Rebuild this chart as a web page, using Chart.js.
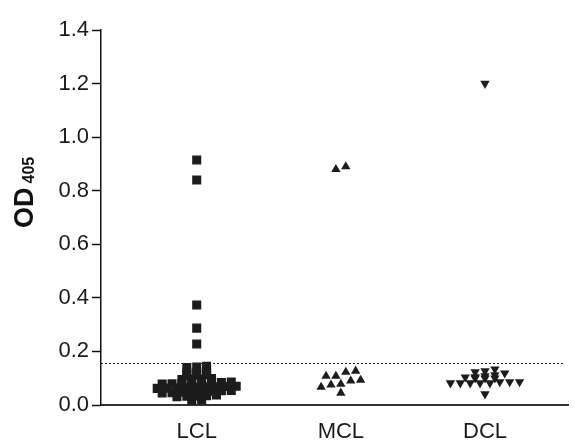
<!DOCTYPE html>
<html>
<head>
<meta charset="utf-8">
<script src="https://cdn.jsdelivr.net/npm/chart.js@4.4.1/dist/chart.umd.min.js"></script>
<style>
  html, body { margin: 0; padding: 0; background: #fff; }
  #wrap { width: 575px; height: 444px; }
</style>
</head>
<body>
<div id="wrap"><canvas id="odChart"></canvas></div>
<script>
// ==========================
// DATA
// ==========================
const categories = ['LCL', 'MCL', 'DCL'];

const lclValues = [
  0.915, 0.840, 0.373, 0.287, 0.228,
  0.145, 0.142, 0.140,
  0.126, 0.123, 0.121,
  0.114, 0.112, 0.110,
  0.099, 0.097, 0.097, 0.095,
  0.086, 0.084, 0.083, 0.082, 0.081, 0.080, 0.079, 0.078,
  0.070, 0.069, 0.068, 0.067, 0.066, 0.065, 0.064, 0.063, 0.062,
  0.054, 0.053, 0.051, 0.050, 0.049, 0.048, 0.046, 0.045,
  0.037, 0.035, 0.034, 0.033, 0.031,
  0.020, 0.018
];

const mclValues = [
  0.890, 0.880,
  0.127, 0.123, 0.108, 0.108, 0.093, 0.090, 0.078, 0.075, 0.067, 0.045
];

const dclValues = [
  1.200,
  0.134, 0.127, 0.123, 0.119, 0.112, 0.108, 0.105, 0.104,
  0.100, 0.100, 0.100, 0.086, 0.086, 0.086, 0.082, 0.082,
  0.082, 0.082, 0.082, 0.041
];

const yTicks = [0, 0.2, 0.4, 0.6, 0.8, 1.0, 1.2, 1.4];
const cutoff = 0.157;

// ==========================
// COLUMN SCATTER LAYOUT
// points with close values share a row and sit side by side
// ==========================
const PX_PER_X = 146;   // pixel per category step

function columnScatter(values, center, binSize, spacingPx) {
  const rows = {};
  values.slice().sort((a, b) => a - b).forEach(v => {
    const key = Math.round(v / binSize);
    (rows[key] = rows[key] || []).push(v);
  });
  const points = [];
  Object.values(rows).forEach(row => {
    row.forEach((v, i) => {
      const off = (i - (row.length - 1) / 2) * spacingPx;
      points.push({ x: center + off / PX_PER_X, y: v });
    });
  });
  return points;
}

// ==========================
// PLUGINS
// ==========================
const cutoffLine = {
  id: 'cutoffLine',
  beforeDatasetsDraw(chart) {
    const { ctx, chartArea, scales } = chart;
    const y = Math.round(scales.y.getPixelForValue(cutoff)) + 0.5;
    ctx.save();
    ctx.strokeStyle = '#222';
    ctx.lineWidth = 1;
    ctx.setLineDash([2, 2]);
    ctx.beginPath();
    ctx.moveTo(chartArea.left, y);
    ctx.lineTo(chartArea.right - 4, y);
    ctx.stroke();
    ctx.restore();
  }
};

const yTitle = {
  id: 'yTitle',
  afterDraw(chart) {
    const { ctx } = chart;
    ctx.save();
    ctx.translate(33, 228);
    ctx.rotate(-Math.PI / 2);
    ctx.fillStyle = '#111';
    ctx.textAlign = 'left';
    ctx.textBaseline = 'alphabetic';
    ctx.font = 'bold 27px "Liberation Sans", Arial, sans-serif';
    ctx.fillText('OD', 0, 0);
    const w = ctx.measureText('OD').width;
    ctx.font = 'bold 16px "Liberation Sans", Arial, sans-serif';
    ctx.fillText('405', w + 4, 1);
    ctx.restore();
  }
};

// ==========================
// CHART
// ==========================
const font = { family: '"Liberation Sans", Arial, sans-serif', size: 22 };
const ctx = document.getElementById('odChart').getContext('2d');

new Chart(ctx, {
  type: 'scatter',
  data: {
    datasets: [
      {
        label: categories[0],
        data: columnScatter(lclValues, 1, 0.016, 10),
        pointStyle: 'rect',
        pointRadius: 6.4,
        backgroundColor: '#1c1c1c',
        borderWidth: 0
      },
      {
        label: categories[1],
        data: columnScatter(mclValues, 2, 0.04, 10),
        pointStyle: 'triangle',
        pointRadius: 5.4,
        backgroundColor: '#1c1c1c',
        borderWidth: 0
      },
      {
        label: categories[2],
        data: columnScatter(dclValues, 3, 0.016, 10),
        pointStyle: 'triangle',
        rotation: 180,
        pointRadius: 5.4,
        backgroundColor: '#1c1c1c',
        borderWidth: 0
      }
    ]
  },
  options: {
    responsive: true,
    maintainAspectRatio: false,
    animation: false,
    layout: { padding: { top: 30, right: 0, left: 0, bottom: 0 } },
    plugins: {
      legend: { display: false },
      tooltip: { enabled: false }
    },
    scales: {
      x: {
        type: 'linear',
        min: 0.336,
        max: 3.58,
        afterBuildTicks: s => { s.ticks = [1, 2, 3].map(v => ({ value: v })); },
        afterFit: s => { s.height = 39; },
        ticks: {
          font: font,
          color: '#1a1a1a',
          padding: 6,
          maxRotation: 0,
          callback: v => categories[v - 1]
        },
        grid: { display: false },
        border: { display: true, color: '#333', width: 2 }
      },
      y: {
        min: 0,
        max: 1.4,
        afterBuildTicks: s => { s.ticks = yTicks.map(v => ({ value: v })); },
        afterFit: s => { s.width = 101; },
        ticks: {
          font: font,
          color: '#1a1a1a',
          padding: 3,
          callback: v => v.toFixed(1)
        },
        grid: { drawOnChartArea: false, drawTicks: true, tickLength: 9, color: '#111', tickWidth: 1.5 },
        border: { display: true, color: '#111', width: 1.5 }
      }
    }
  },
  plugins: [cutoffLine, yTitle]
});
</script>
</body>
</html>
